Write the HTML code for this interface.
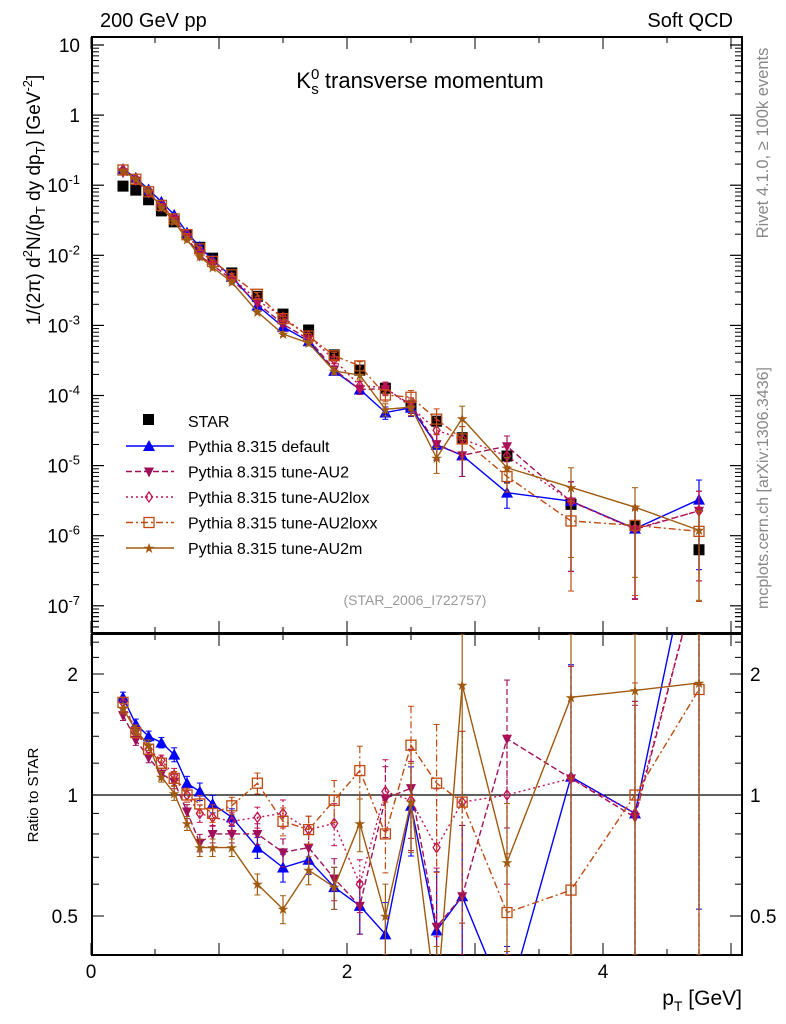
<!DOCTYPE html>
<html><head><meta charset="utf-8"><style>
html,body{margin:0;background:#fff;overflow:hidden;width:786px;height:1024px}
svg{display:block;font-family:"Liberation Sans",sans-serif}
</style></head><body>
<svg id="c" width="786" height="1024" viewBox="0 0 786 1024">
<defs>
<clipPath id="cm"><rect x="92" y="37" width="650" height="596"/></clipPath>
<clipPath id="cr"><rect x="92" y="634" width="650" height="321"/></clipPath>
</defs>
<text x="100" y="27" font-size="20">200 GeV pp</text>
<text x="733" y="27" font-size="20" text-anchor="end">Soft QCD</text>
<text x="420" y="88" font-size="22" text-anchor="middle">K<tspan font-size="15" dy="-9">0</tspan><tspan font-size="15" dx="-8" dy="15">s</tspan><tspan dy="-6"> transverse momentum</tspan></text>
<text transform="translate(768,143) rotate(-90)" font-size="16.5" fill="#888" text-anchor="middle">Rivet 4.1.0, ≥ 100k events</text>
<text transform="translate(768,488) rotate(-90)" font-size="16" fill="#888" text-anchor="middle">mcplots.cern.ch [arXiv:1306.3436]</text>
<text transform="translate(40,200) rotate(-90)" font-size="19" text-anchor="middle">1/(2π)   d<tspan font-size="13" dy="-8">2</tspan><tspan dy="8">N/(p</tspan><tspan font-size="13" dy="5">T</tspan><tspan dy="-5"> dy dp</tspan><tspan font-size="13" dy="5">T</tspan><tspan dy="-5">) [GeV</tspan><tspan font-size="13" dy="-8">-2</tspan><tspan dy="8">]</tspan></text>
<text transform="translate(38,795) rotate(-90)" font-size="15" text-anchor="middle">Ratio to STAR</text>
<text x="415" y="605" font-size="14" fill="#999" text-anchor="middle">(STAR_2006_I722757)</text>
<text x="742" y="1005" font-size="21" text-anchor="end">p<tspan font-size="14" dy="6">T</tspan><tspan dy="-6"> [GeV]</tspan></text>
<g id="g"></g>
</svg>
<script>
const pts=[0.25,0.35,0.45,0.55,0.65,0.75,0.85,0.95,1.1,1.3,1.5,1.7,1.9,2.1,2.3,2.5,2.7,2.9,3.25,3.75,4.25,4.75];
const star=[0.097,0.085,0.062,0.043,0.030,0.0197,0.013,0.0091,0.0056,0.0026,0.00145,0.00086,0.00038,0.00023,0.000127,7.1e-5,4.3e-5,2.5e-5,1.37e-5,2.8e-6,1.4e-6,6.3e-7];
const rDefault=[1.75,1.5,1.4,1.35,1.26,1.07,1.02,0.95,0.88,0.74,0.66,0.69,0.59,0.53,0.45,0.94,0.46,0.56,0.3,1.11,0.9,5.2];
const rAU2=[1.58,1.37,1.24,1.13,1.08,0.91,0.76,0.8,0.8,0.8,0.72,0.74,0.62,0.53,0.98,1.04,0.47,0.56,1.38,1.1,0.88,3.6];
const rAU2lox=[1.7,1.45,1.3,1.22,1.12,1.0,0.9,0.88,0.86,0.88,0.9,0.82,0.85,0.6,1.02,0.97,0.74,0.96,1.0,1.1,0.9,3.6];
const rAU2loxx=[1.7,1.43,1.3,1.2,1.1,1.0,0.95,0.9,0.94,1.07,0.86,0.82,0.97,1.15,0.8,1.33,1.07,0.96,0.51,0.58,1.0,1.83];
const rAU2m=[1.64,1.45,1.33,1.11,1.01,0.85,0.74,0.74,0.74,0.6,0.52,0.65,0.59,0.85,0.5,0.96,0.3,1.88,0.68,1.75,1.82,1.9];
const relErr=[0.03,0.03,0.03,0.03,0.04,0.04,0.05,0.05,0.05,0.06,0.08,0.08,0.12,0.15,0.2,0.25,0.4,0.5,0.4,0.9,0.9,0.9];
const xTicks=[0,2,4];
const rTicks=[0.5,1,2];

const NS="http://www.w3.org/2000/svg";
const g=document.getElementById('g');
const X=v=>91+v*128;
const Y=v=>45+(1-Math.log10(v))*70.1;
const R=v=>795-Math.log2(v)*121;
const cl=(v,a,b)=>Math.max(a,Math.min(b,v));
const Yc=v=>cl(Y(v),37,633);
const Rc=v=>cl(R(v),634,955);
function el(t,a,p){const e=document.createElementNS(NS,t);for(const k in a)e.setAttribute(k,a[k]);(p||g).appendChild(e);return e;}

const fm=el('rect',{x:92,y:37,width:650,height:596,fill:'none',stroke:'#000','stroke-width':2});


const fr=el('rect',{x:92,y:634,width:650,height:321,fill:'none',stroke:'#000','stroke-width':2});


const ul=el('line',{x1:92,x2:742,y1:R(1),y2:R(1),stroke:'#000','stroke-width':1.2});



for(let e=-7;e<=1;e++){
  const y=Y(Math.pow(10,e));
  el('line',{x1:92,x2:104,y1:y,y2:y,stroke:'#000','stroke-width':1.2});
  el('line',{x1:730,x2:742,y1:y,y2:y,stroke:'#000','stroke-width':1.2});
  const t=el('text',{x:80,y:y+7,'font-size':19,'text-anchor':'end'});
  
  
  if(e==0)t.textContent='1';else if(e==1)t.textContent='10';
  else{t.textContent='10';const s=el('tspan',{'font-size':13,dy:-8},t);s.textContent=String(e);}
  for(let m=2;m<10;m++){const yy=Y(m*Math.pow(10,e-1));if(yy<37||yy>633)continue;
    el('line',{x1:92,x2:99,y1:yy,y2:yy,stroke:'#000'});el('line',{x1:735,x2:742,y1:yy,y2:yy,stroke:'#000'});}
}
for(let m=2;m<10;m++){const yy=Y(m*1e-8);if(yy<633){el('line',{x1:92,x2:99,y1:yy,y2:yy,stroke:'#000'});el('line',{x1:735,x2:742,y1:yy,y2:yy,stroke:'#000'});}}
for(let v=0;v<=5;v+=0.5){const x=X(v);if(x>742)continue;const L=(v%1==0)?12:6;
  el('line',{x1:x,x2:x,y1:37,y2:37+L,stroke:'#000'});el('line',{x1:x,x2:x,y1:633-L,y2:633,stroke:'#000'});
  el('line',{x1:x,x2:x,y1:634,y2:634+L,stroke:'#000'});el('line',{x1:x,x2:x,y1:955-L,y2:955,stroke:'#000'});}
xTicks.forEach(v=>{const t=el('text',{x:X(v),y:978,'font-size':19,'text-anchor':'middle'});
  
  
  t.textContent=String(v);});
rTicks.forEach(v=>{const y=R(v);
  el('line',{x1:92,x2:104,y1:y,y2:y,stroke:'#000'});el('line',{x1:730,x2:742,y1:y,y2:y,stroke:'#000'});
  const t=el('text',{x:78,y:y+7,'font-size':19,'text-anchor':'end'});
  
  
  t.textContent=String(v);
  const t2=el('text',{x:750,y:y+7,'font-size':19});
  
  
  t2.textContent=String(v);});
[0.4,0.6,0.7,0.8,0.9,1.2,1.4,1.6,1.8,2.2,2.4].forEach(v=>{const y=R(v);if(y<634||y>955)return;
  el('line',{x1:92,x2:99,y1:y,y2:y,stroke:'#000'});el('line',{x1:735,x2:742,y1:y,y2:y,stroke:'#000'});});

function marker(type,x,y,c,p){
  if(type=='tu')return el('polygon',{points:`${x},${y-6} ${x-6},${y+5} ${x+6},${y+5}`,fill:c},p);
  if(type=='td')return el('polygon',{points:`${x},${y+6} ${x-5},${y-4} ${x+5},${y-4}`,fill:c},p);
  if(type=='di')return el('polygon',{points:`${x},${y-5} ${x-3.5},${y} ${x},${y+5} ${x+3.5},${y}`,fill:'none',stroke:c,'stroke-width':1.3},p);
  if(type=='os')return el('rect',{x:x-5,y:y-5,width:10,height:10,fill:'none',stroke:c,'stroke-width':1.3},p);
  if(type=='st')return el('text',{x:x,y:y+5,'font-size':14,fill:c,'text-anchor':'middle'},p).textContent='★';
}
const series=[
 {name:'Pythia 8.315 default',r:rDefault,c:'#0000ff',d:'',m:'tu',id:'default'},
 {name:'Pythia 8.315 tune-AU2',r:rAU2,c:'#a0105a',d:'6,3',m:'td',id:'au2'},
 {name:'Pythia 8.315 tune-AU2lox',r:rAU2lox,c:'#c4124e',d:'2,3',m:'di',id:'au2lox'},
 {name:'Pythia 8.315 tune-AU2loxx',r:rAU2loxx,c:'#c04a10',d:'7,3,2,3',m:'os',id:'au2loxx'},
 {name:'Pythia 8.315 tune-AU2m',r:rAU2m,c:'#a05a10',d:'',m:'st',id:'au2m'}];

const mainG=el('g',{'clip-path':'url(#cm)'});
const ratG=el('g',{'clip-path':'url(#cr)'});
star.forEach((v,i)=>{const m=el('rect',{x:X(pts[i])-5.5,y:Y(v)-5.5,width:11,height:11,fill:'#000'},mainG);
  
  });
series.forEach(s=>{
  const vals=s.r.map((r,i)=>r*star[i]);
  const sg=el('g',{},mainG);
  
  
  el('polyline',{points:vals.map((v,i)=>X(pts[i])+','+Y(v)).join(' '),fill:'none',stroke:s.c,'stroke-width':1.4,'stroke-dasharray':s.d},sg);
  vals.forEach((v,i)=>{const x=X(pts[i]),lo=v*(1-Math.min(relErr[i],0.99)),hi=v*(1+relErr[i]);
    el('line',{x1:x,x2:x,y1:Yc(hi),y2:Yc(lo),stroke:s.c,'stroke-width':1.2},sg);
    el('line',{x1:x-3,x2:x+3,y1:Yc(hi),y2:Yc(hi),stroke:s.c},sg);el('line',{x1:x-3,x2:x+3,y1:Yc(lo),y2:Yc(lo),stroke:s.c},sg);
    marker(s.m,x,Y(v),s.c,sg);});
  const rg=el('g',{},ratG);
  
  
  el('polyline',{points:s.r.map((v,i)=>X(pts[i])+','+R(v)).join(' '),fill:'none',stroke:s.c,'stroke-width':1.4,'stroke-dasharray':s.d},rg);
  s.r.forEach((v,i)=>{const x=X(pts[i]),lo=v*(1-Math.min(relErr[i],0.99)),hi=v*(1+relErr[i]);
    el('line',{x1:x,x2:x,y1:Rc(hi),y2:Rc(lo),stroke:s.c,'stroke-width':1.2,'stroke-dasharray':s.d},rg);
    el('line',{x1:x-3,x2:x+3,y1:Rc(hi),y2:Rc(hi),stroke:s.c},rg);el('line',{x1:x-3,x2:x+3,y1:Rc(lo),y2:Rc(lo),stroke:s.c},rg);
    if(R(v)>=634&&R(v)<=955)marker(s.m,x,R(v),s.c,rg);});
});
const lg=el('g',{});


const ls=el('rect',{x:143,y:414,width:11,height:11,fill:'#000'},lg);
const lt=el('text',{x:188,y:427,'font-size':16},lg);lt.textContent='STAR';
series.forEach((s,k)=>{const y=446+k*25.5;
  const e=el('g',{},lg);
  
  
  el('line',{x1:126,x2:174,y1:y,y2:y,stroke:s.c,'stroke-width':1.4,'stroke-dasharray':s.d},e);
  marker(s.m,149,y,s.c,e);
  const t=el('text',{x:188,y:y+6,'font-size':16},e);t.textContent=s.name;});
</script>
</body></html>
